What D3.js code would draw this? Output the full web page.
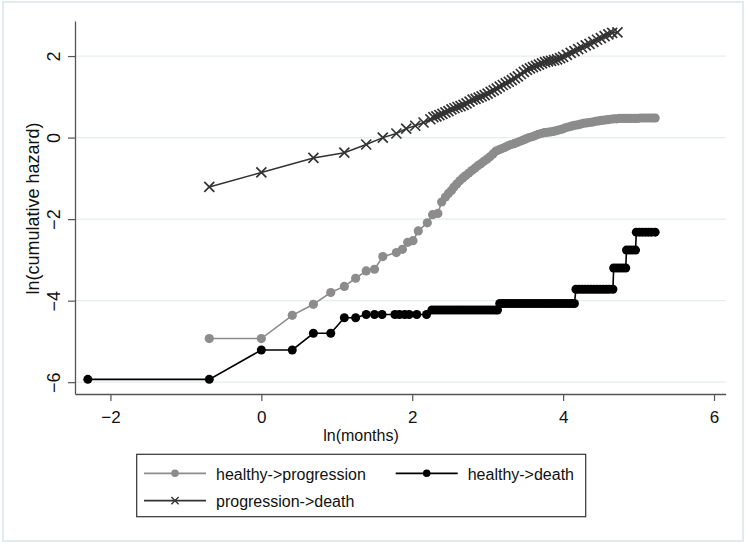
<!DOCTYPE html>
<html><head><meta charset="utf-8">
<script src="https://cdn.jsdelivr.net/npm/d3@7"></script>
<style>
html,body{margin:0;padding:0;background:#fff;}
svg{display:block;font-family:"Liberation Sans",Arial,Helvetica,sans-serif;}
</style></head>
<body>
<svg id="chart" width="746" height="543"></svg>
<script>
// ---- data (x = ln(months), y = ln(cumulative hazard)) ----
const seriesNames = ["healthy->progression", "healthy->death", "progression->death"];
const xTicks = [-2, 0, 2, 4, 6];
const yTicks = [-6, -4, -2, 0, 2];

const healthyProgression = [
 [-0.69,-4.93],[0,-4.93],[0.41,-4.36],[0.69,-4.09],[0.92,-3.80],[1.10,-3.65],[1.25,-3.45],[1.39,-3.27],
 [1.50,-3.23],[1.61,-2.92],[1.79,-2.82],[1.87,-2.74],[1.94,-2.57],[2.01,-2.53],[2.08,-2.29],[2.20,-2.09],
 [2.27,-1.89],[2.34,-1.86],[2.39,-1.58],[2.44,-1.46],[2.48,-1.37],[2.52,-1.30],[2.55,-1.22],
 [2.59,-1.14],[2.63,-1.06],[2.67,-0.99],[2.71,-0.93],[2.75,-0.87],[2.79,-0.81],[2.83,-0.75],[2.87,-0.69],
 [2.91,-0.64],[2.95,-0.58],[2.99,-0.53],[3.03,-0.47],[3.07,-0.40],[3.11,-0.33],[3.15,-0.30],[3.19,-0.27],
 [3.23,-0.24],[3.27,-0.20],[3.31,-0.17],[3.35,-0.15],[3.39,-0.12],[3.43,-0.09],[3.47,-0.06],[3.51,-0.03],
 [3.55,0.00],[3.59,0.02],[3.63,0.05],[3.67,0.08],[3.71,0.10],[3.75,0.12],[3.79,0.13],[3.83,0.14],
 [3.87,0.15],[3.91,0.17],[3.95,0.19],[3.99,0.21],[4.03,0.24],[4.07,0.26],[4.11,0.28],[4.15,0.30],
 [4.19,0.31],[4.23,0.33],[4.27,0.35],[4.31,0.36],[4.35,0.37],[4.39,0.38],[4.43,0.40],[4.47,0.41],
 [4.51,0.42],[4.55,0.43],[4.59,0.44],[4.63,0.45],[4.67,0.46],[4.71,0.46],[4.75,0.47],[4.79,0.47],
 [4.83,0.47],[4.87,0.47],[4.91,0.47],[4.95,0.47],[4.99,0.47],[5.03,0.48],[5.07,0.48],[5.11,0.48],
 [5.15,0.48],[5.19,0.48],[5.22,0.48]
];

const healthyDeath = [
 [-2.30,-5.93],[-0.69,-5.93],[0,-5.21],[0.41,-5.21],[0.69,-4.80],[0.92,-4.80],[1.10,-4.42],[1.25,-4.42],
 [1.39,-4.34],[1.50,-4.34],[1.60,-4.34],[1.77,-4.34],[1.83,-4.34],[1.90,-4.34],[1.96,-4.34],[2.06,-4.34],[2.19,-4.34],
 [2.26,-4.23],[2.30,-4.23],[2.34,-4.23],[2.38,-4.23],[2.42,-4.23],[2.46,-4.23],[2.50,-4.23],[2.54,-4.23],
 [2.58,-4.23],[2.62,-4.23],[2.66,-4.23],[2.70,-4.23],[2.74,-4.23],[2.78,-4.23],[2.82,-4.23],[2.86,-4.23],
 [2.90,-4.23],[2.94,-4.23],[2.98,-4.23],[3.02,-4.23],[3.06,-4.23],[3.10,-4.23],[3.13,-4.23],
 [3.16,-4.07],[3.20,-4.07],[3.24,-4.07],[3.28,-4.07],[3.32,-4.07],[3.36,-4.07],[3.40,-4.07],[3.44,-4.07],
 [3.48,-4.07],[3.52,-4.07],[3.56,-4.07],[3.60,-4.07],[3.64,-4.07],[3.68,-4.07],[3.72,-4.07],[3.76,-4.07],
 [3.80,-4.07],[3.84,-4.07],[3.88,-4.07],[3.92,-4.07],[3.96,-4.07],[4.00,-4.07],[4.04,-4.07],[4.08,-4.07],
 [4.12,-4.07],[4.15,-4.07],
 [4.17,-3.72],[4.21,-3.72],[4.25,-3.72],[4.29,-3.72],[4.33,-3.72],[4.37,-3.72],[4.41,-3.72],[4.45,-3.72],
 [4.49,-3.72],[4.53,-3.72],[4.57,-3.72],[4.61,-3.72],[4.66,-3.72],
 [4.67,-3.20],[4.71,-3.20],[4.75,-3.20],[4.79,-3.20],[4.83,-3.20],
 [4.84,-2.76],[4.88,-2.76],[4.92,-2.76],[4.96,-2.76],
 [4.97,-2.32],[5.01,-2.32],[5.05,-2.32],[5.09,-2.32],[5.13,-2.32],[5.17,-2.32],[5.22,-2.32]
];

const progressionDeath = [
 [-0.69,-1.21],[0,-0.855],[0.69,-0.50],[1.10,-0.37],[1.39,-0.17],[1.61,0.00],[1.79,0.10],[1.92,0.22],
 [2.04,0.29],[2.15,0.37],[2.24,0.45],
 [2.28,0.50],[2.32,0.52],[2.36,0.55],[2.40,0.58],[2.44,0.62],[2.48,0.65],[2.52,0.69],[2.56,0.72],
 [2.60,0.75],[2.64,0.77],[2.68,0.80],[2.72,0.84],[2.76,0.88],[2.80,0.93],[2.84,0.95],[2.88,0.98],
 [2.92,1.01],[2.96,1.04],[3.00,1.08],[3.04,1.12],[3.08,1.16],[3.12,1.20],[3.16,1.25],[3.20,1.29],
 [3.24,1.33],[3.28,1.37],[3.32,1.41],[3.36,1.46],[3.40,1.50],[3.44,1.56],[3.48,1.61],[3.52,1.66],
 [3.56,1.70],[3.60,1.73],[3.64,1.76],[3.68,1.79],[3.72,1.82],[3.76,1.85],[3.80,1.87],[3.84,1.88],
 [3.88,1.90],[3.92,1.92],[3.96,1.95],[4.00,1.98],[4.05,2.03],[4.10,2.08],[4.15,2.12],[4.20,2.17],
 [4.25,2.21],[4.30,2.26],[4.35,2.30],[4.40,2.35],[4.45,2.40],[4.50,2.44],[4.55,2.49],[4.60,2.53],
 [4.65,2.57],[4.72,2.58]
];

// ---- drawing ----
const svg = d3.select("#chart");
const GRAY = "#8c8c8c", BLACK = "#000", XCOL = "#333";
const TXT = "#111";

svg.append("rect").attr("x",3).attr("y",2).attr("width",740).attr("height",539)
  .attr("fill","#fff").attr("stroke","#e4ebee").attr("stroke-width",2);

const x = d3.scaleLinear().domain([-2.47, 6.155]).range([75, 725.7]);
const y = d3.scaleLinear().domain([-6.29, 2.86]).range([394, 21]);

// gridlines
svg.append("g").selectAll("line").data(yTicks).join("line")
  .attr("x1", 76).attr("x2", 725.7)
  .attr("y1", d => y(d)).attr("y2", d => y(d))
  .attr("stroke", "#e6edef").attr("stroke-width", 1.2);

// axes
const xAxis = svg.append("g").attr("transform", `translate(0,${y.range()[0]})`)
  .call(d3.axisBottom(x).tickValues(xTicks).tickSize(7).tickSizeOuter(0).tickFormat(d3.format("d")));
const yAxis = svg.append("g").attr("transform", `translate(${x.range()[0]},0)`)
  .call(d3.axisLeft(y).tickValues(yTicks).tickSize(7).tickSizeOuter(0).tickFormat(d3.format("d")));
[xAxis, yAxis].forEach(a => {
  a.select(".domain").attr("stroke", "#555").attr("stroke-width", 1.3);
  a.selectAll(".tick line").attr("stroke", "#555").attr("stroke-width", 1.2);
  a.selectAll(".tick text").attr("fill", TXT).style("font-family", '"Liberation Sans",Arial,sans-serif');
});
xAxis.selectAll(".tick text").attr("font-size", 17).attr("y", 22).attr("dy", "0.4em");
yAxis.selectAll(".tick text").attr("font-size", 18)
  .attr("x", null).attr("dy", null)
  .attr("text-anchor", "middle")
  .attr("transform", "translate(-15,0) rotate(-90)");

// axis titles
svg.append("text").attr("x", 361).attr("y", 440.5).attr("text-anchor", "middle")
  .attr("font-size", 16).attr("fill", TXT).text("ln(months)");
svg.append("text").attr("transform", "translate(38.5,208.5) rotate(-90)").attr("text-anchor", "middle")
  .attr("font-size", 18).attr("fill", TXT).text("ln(cumulative hazard)");

// series
const line = d3.line().x(d => x(d[0])).y(d => y(d[1]));
const g = svg.append("g");

g.append("path").datum(healthyProgression).attr("d", line)
  .attr("fill", "none").attr("stroke", GRAY).attr("stroke-width", 1.6);
g.append("g").selectAll("circle").data(healthyProgression).join("circle")
  .attr("cx", d => x(d[0])).attr("cy", d => y(d[1])).attr("r", 4.6).attr("fill", GRAY);

g.append("path").datum(healthyDeath).attr("d", line)
  .attr("fill", "none").attr("stroke", BLACK).attr("stroke-width", 1.6);
g.append("g").selectAll("circle").data(healthyDeath).join("circle")
  .attr("cx", d => x(d[0])).attr("cy", d => y(d[1])).attr("r", 4.5).attr("fill", BLACK);

const cross = s => `M${-s},${-s}L${s},${s}M${-s},${s}L${s},${-s}`;
g.append("path").datum(progressionDeath).attr("d", line)
  .attr("fill", "none").attr("stroke", XCOL).attr("stroke-width", 1.5);
g.append("g").selectAll("path").data(progressionDeath).join("path")
  .attr("transform", d => `translate(${x(d[0])},${y(d[1])})`)
  .attr("d", cross(5)).attr("fill", "none").attr("stroke", XCOL).attr("stroke-width", 1.7);

// legend
const lg = svg.append("g");
lg.append("rect").attr("x", 136.7).attr("y", 454.3).attr("width", 449).attr("height", 62.4)
  .attr("fill", "#fff").attr("stroke", "#333").attr("stroke-width", 1.2);
const legendItems = [
  {name: seriesNames[0], lx: 144, ty: 473.3, color: GRAY, mark: "circle"},
  {name: seriesNames[1], lx: 395.7, ty: 473.3, color: BLACK, mark: "circle"},
  {name: seriesNames[2], lx: 144, ty: 500.7, color: XCOL, mark: "cross"}
];
legendItems.forEach(it => {
  lg.append("line").attr("x1", it.lx).attr("x2", it.lx + 62).attr("y1", it.ty).attr("y2", it.ty)
    .attr("stroke", it.color).attr("stroke-width", 1.7);
  if (it.mark === "circle") {
    lg.append("circle").attr("cx", it.lx + 31).attr("cy", it.ty).attr("r", 3.8).attr("fill", it.color);
  } else {
    lg.append("path").attr("transform", `translate(${it.lx + 31},${it.ty})`).attr("d", cross(3.6))
      .attr("stroke", it.color).attr("stroke-width", 1.4).attr("fill", "none");
  }
  lg.append("text").attr("x", it.lx + 72).attr("y", it.ty + 6.2).attr("font-size", 16)
    .attr("fill", TXT).text(it.name);
});
</script>
</body></html>
